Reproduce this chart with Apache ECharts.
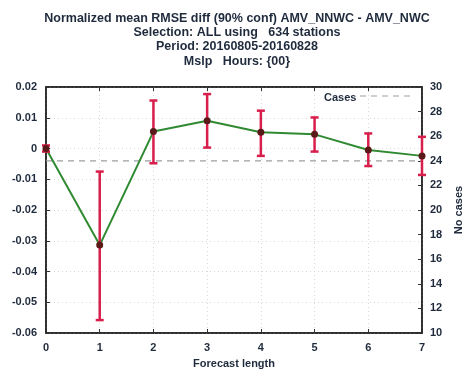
<!DOCTYPE html>
<html>
<head>
<meta charset="utf-8">
<script src="https://cdn.jsdelivr.net/npm/echarts@6/dist/echarts.min.js"></script>
<style>
html,body{margin:0;padding:0;background:#fff;}
#chart{width:474px;height:383px;}
</style>
</head>
<body>
<div id="chart"></div>
<script>
// Forecast lengths (hours index)
const forecastLength = [0, 1, 2, 3, 4, 5, 6, 7];
// Normalized mean RMSE difference
const meanDiff = [0.0, -0.0314, 0.0055, 0.009, 0.0053, 0.0046, -0.0005, -0.0024];
// 90% confidence interval bounds
const ciLow  = [-0.001, -0.0558, -0.0048, 0.0003, -0.0024, -0.001, -0.0057, -0.0086];
const ciHigh = [0.001, -0.0075, 0.0156, 0.0177, 0.0123, 0.0101, 0.0049, 0.0038];
// Number of cases per forecast length
const cases = [24, 24, 24, 24, 24, 24, 24, 24];

const titleLines = [
  'Normalized mean RMSE diff (90% conf) AMV_NNWC - AMV_NWC',
  'Selection: ALL using   634 stations',
  'Period: 20160805-20160828',
  'Mslp   Hours: {00}'
];

const ink = '#1f2b3d';
const font = 'Liberation Sans';
const frame = {show: true, onZero: false, lineStyle: {color: '#222', width: 1.5}};
const tick = {inside: true, length: 4, lineStyle: {color: '#333'}};
const grid = {show: true, lineStyle: {color: '#d8d8d8', type: [1, 3]}};
const labelStyle = {fontFamily: font, fontSize: 11, fontWeight: 'bold', color: ink};

const chart = echarts.init(document.getElementById('chart'), null, {renderer: 'canvas'});

const fmt2 = v => String(parseFloat(v.toFixed(2)));

chart.setOption({
  animation: false,
  backgroundColor: '#fff',
  title: {
    text: titleLines.join('\n'),
    left: 'center',
    top: 6,
    textStyle: {fontFamily: font, fontSize: 12.5, fontWeight: 'bold', color: ink, lineHeight: 14.3}
  },
  grid: {left: 46, right: 52, top: 87, bottom: 50, show: true, borderColor: '#222', borderWidth: 1.5},
  legend: {
    data: [{name: 'Cases', icon: 'none'}],
    left: 314, top: 86,
    itemWidth: 0,
    textStyle: labelStyle
  },
  graphic: [{
    type: 'line',
    shape: {x1: 360, y1: 96, x2: 412, y2: 96},
    style: {stroke: '#9aa0a0', lineWidth: 1.2, lineDash: [6, 5]}
  }],
  xAxis: [{
    type: 'value', min: 0, max: 7, interval: 1,
    name: 'Forecast length', nameLocation: 'middle', nameGap: 25,
    nameTextStyle: labelStyle,
    axisLine: frame,
    axisTick: tick,
    axisLabel: Object.assign({margin: 9}, labelStyle),
    splitLine: grid
  }, {
    type: 'value', min: 0, max: 7, interval: 1, position: 'top',
    axisLine: frame,
    axisTick: tick,
    axisLabel: {show: false},
    splitLine: {show: false}
  }],
  yAxis: [{
    type: 'value', min: -0.06, max: 0.02, interval: 0.01,
    axisLine: frame,
    axisTick: tick,
    axisLabel: Object.assign({margin: 9, formatter: fmt2}, labelStyle),
    splitLine: grid
  }, {
    type: 'value', min: 10, max: 30, interval: 2, position: 'right',
    name: 'No cases', nameLocation: 'middle', nameGap: 26, nameRotate: 90,
    nameTextStyle: labelStyle,
    axisLine: frame,
    axisTick: tick,
    axisLabel: Object.assign({margin: 8}, labelStyle),
    splitLine: {show: false}
  }],
  series: [{
    name: 'Cases',
    type: 'line',
    yAxisIndex: 1,
    data: forecastLength.map((x, i) => [x, cases[i]]),
    symbol: 'none',
    lineStyle: {color: '#9aa0a0', width: 1.2, type: [6, 5]},
    z: 2
  }, {
    name: 'diff',
    type: 'line',
    data: forecastLength.map((x, i) => [x, meanDiff[i]]),
    symbol: 'none',
    lineStyle: {color: '#2f8a32', width: 2},
    z: 3
  }, {
    name: 'ci',
    type: 'custom',
    data: forecastLength.map((x, i) => [x, ciLow[i], ciHigh[i], meanDiff[i]]),
    renderItem: function (params, api) {
      const x = api.value(0);
      const lo = api.coord([x, api.value(1)]);
      const hi = api.coord([x, api.value(2)]);
      const mid = api.coord([x, api.value(3)]);
      const cap = 4;
      const st = {stroke: '#d81e4a', lineWidth: 2.5};
      return {
        type: 'group',
        children: [
          {type: 'line', shape: {x1: hi[0], y1: hi[1], x2: lo[0], y2: lo[1]}, style: st},
          {type: 'line', shape: {x1: hi[0] - cap, y1: hi[1], x2: hi[0] + cap, y2: hi[1]}, style: st},
          {type: 'line', shape: {x1: lo[0] - cap, y1: lo[1], x2: lo[0] + cap, y2: lo[1]}, style: st},
          {type: 'circle', shape: {cx: mid[0], cy: mid[1], r: 3.5}, style: {fill: '#5a1a1a'}}
        ]
      };
    },
    z: 4
  }]
});
</script>
</body>
</html>
